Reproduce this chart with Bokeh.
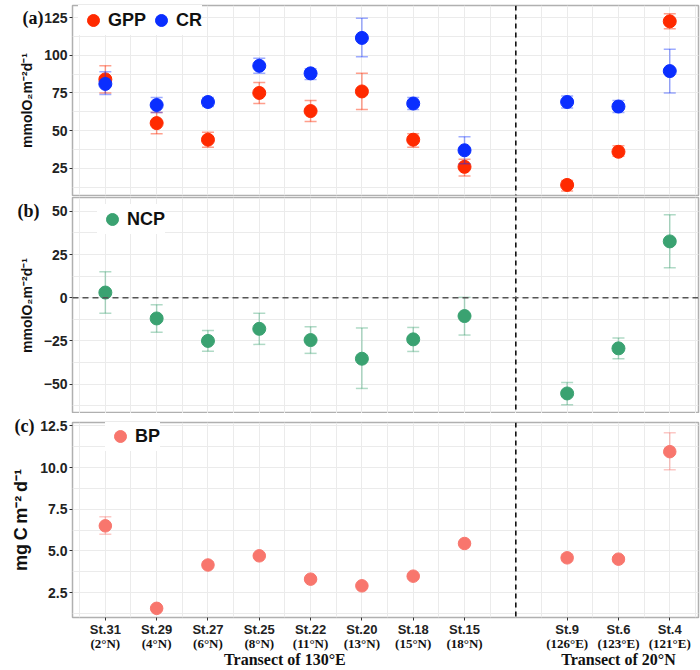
from bokeh.plotting import figure
from bokeh.layouts import column
from bokeh.models import (Range1d, FixedTicker, SingleIntervalTicker, LinearAxis, Span,
                          Legend, LegendItem, ColumnDataSource, PrintfTickFormatter)
from bokeh.embed import file_html
from bokeh.resources import INLINE

# ---------------- data ----------------
stations = ["St.31", "St.29", "St.27", "St.25", "St.22", "St.20", "St.18", "St.15", "St.9", "St.6", "St.4"]
coords = ["(2°N)", "(4°N)", "(6°N)", "(8°N)", "(11°N)", "(13°N)", "(15°N)", "(18°N)", "(126°E)", "(123°E)", "(121°E)"]
transects = ["Transect of 130°E", "Transect of 20°N"]

gpp = [84, 55, 44, 75, 63, 76, 44, 26, 14, 36, 122.5]
gpp_lo = [75, 48, 39, 68, 56, 64, 39, 20, 10, 33, 117.5]
gpp_hi = [93, 62, 49, 82, 70, 88, 48, 31, 17, 40, 127.5]

cr = [81, 67, 69, 93, 88, 111.5, 68, 37, 69, 66, 89.5]
cr_lo = [74, 62, 66, 88, 84, 99, 64, 28, 65, 62, 75]
cr_hi = [89, 72, 72, 98, 91, 124.5, 72, 46, 73, 70, 104]

ncp = [3, -12, -25, -18, -24.5, -35.3, -24.1, -10.6, -55.4, -29.3, 32.6]
ncp_lo = [-9, -20, -31, -27, -32.2, -52.5, -31.1, -21.6, -62, -35.3, 17.4]
ncp_hi = [15, -4, -19, -9, -16.8, -17.5, -17.2, 0.2, -49, -23.3, 48]

bp = [6.5, 1.55, 4.15, 4.7, 3.3, 2.9, 3.48, 5.44, 4.58, 4.5, 10.95]
bp_lo = [6.0, 1.5, 4.0, 4.6, 3.25, 2.85, 3.4, 5.4, 4.4, 4.35, 9.87]
bp_hi = [7.05, 1.6, 4.35, 4.8, 3.35, 2.95, 3.55, 5.5, 4.8, 4.65, 12.08]

# x positions: first transect 0..7, gap, second transect
n1 = 8
xpos = list(range(n1)) + [n1 + 1 + i for i in range(len(stations) - n1)]
divider = n1
transect_pos = [(n1 - 1) / 2, xpos[n1 + 1]]

# ---------------- styles ----------------
RED = "#FF2A00"
BLUE = "#0A2EFF"
GREEN = "#3AA271"
SALMON = "#F8766D"
SANS = "Liberation Sans"
SERIF = "Liberation Serif"
GRID = "#EBEBEB"

x_range = Range1d(-0.64, 11.56)


def base_fig(height, y_range, interval, top, bottom, fmt=None):
    p = figure(width=700, height=height, x_range=x_range, y_range=y_range,
               output_backend="svg", toolbar_location=None,
               min_border_left=72, min_border_right=2,
               min_border_top=top, min_border_bottom=bottom,
               background_fill_color="white", border_fill_color="white",
               outline_line_color="#B0B0B0", outline_line_width=1.5,
               x_axis_location=None, y_axis_location=None)
    yax = LinearAxis(ticker=SingleIntervalTicker(interval=interval, num_minor_ticks=2))
    if fmt is not None:
        yax.formatter = fmt
    yax.axis_line_color = None
    yax.major_tick_out = 3
    yax.major_tick_in = 0
    yax.major_tick_line_color = "#333333"
    yax.minor_tick_out = 0
    yax.minor_tick_in = 0
    yax.major_label_text_font = SANS
    yax.major_label_text_font_style = "bold"
    yax.major_label_text_font_size = "14px"
    yax.major_label_text_color = "#222222"
    yax.major_label_standoff = 2
    yax.axis_label_text_font = SANS
    yax.axis_label_text_font_style = "bold"
    yax.axis_label_text_color = "#111111"
    yax.axis_label_standoff = 6
    p.add_layout(yax, "left")
    p.ygrid.ticker = yax.ticker
    p.ygrid.grid_line_color = GRID
    p.ygrid.minor_grid_line_color = GRID
    p.xgrid.ticker = FixedTicker(ticks=list(range(12)), minor_ticks=[i + 0.5 for i in range(-1, 12)])
    p.xgrid.grid_line_color = GRID
    p.xgrid.minor_grid_line_color = GRID
    p.add_layout(Span(location=divider, dimension="height", line_color="black",
                      line_dash="5 4", line_width=1.5))
    return p, yax


def add_series(p, y, lo, hi, color, err_alpha, size):
    src = ColumnDataSource(dict(x=xpos, y=y, lo=lo, hi=hi))
    p.segment(x0="x", y0="lo", x1="x", y1="hi", source=src, line_color=color,
              line_alpha=err_alpha, line_width=1.5)
    p.scatter(x="x", y="lo", source=src, marker="dash", size=12, line_color=color,
              line_alpha=err_alpha, line_width=1.5)
    p.scatter(x="x", y="hi", source=src, marker="dash", size=12, line_color=color,
              line_alpha=err_alpha, line_width=1.5)
    return p.scatter(x="x", y="y", source=src, size=size, fill_color=color,
                     line_color=color, fill_alpha=1)


def make_legend(items, loc):
    return Legend(items=items, orientation="horizontal", location=loc,
                  label_text_font=SANS, label_text_font_style="bold",
                  label_text_font_size="18px", label_text_color="#111111",
                  glyph_width=30, glyph_height=30, label_standoff=0, spacing=0,
                  padding=0, margin=0, border_line_color=None,
                  background_fill_color="white", background_fill_alpha=1)


def panel_label(p, text, y, standoff):
    ax = LinearAxis(ticker=FixedTicker(ticks=[y]), major_label_overrides={y: text})
    ax.axis_line_color = None
    ax.major_tick_out = 0
    ax.major_tick_in = 0
    ax.minor_tick_out = 0
    ax.minor_tick_in = 0
    ax.major_label_standoff = standoff
    ax.major_label_text_font = SERIF
    ax.major_label_text_font_style = "bold"
    ax.major_label_text_font_size = "18px"
    ax.major_label_text_color = "#111111"
    p.add_layout(ax, "left")


# ---------------- panel (a) ----------------
pa, ya = base_fig(197, Range1d(7, 133), 25, 5, 2)
ya.axis_label = "mmolO₂m⁻²d⁻¹"
ya.axis_label_text_font_size = "14px"
r_gpp = add_series(pa, gpp, gpp_lo, gpp_hi, RED, 0.45, 13)
r_cr = add_series(pa, cr, cr_lo, cr_hi, BLUE, 0.4, 13)
pa.add_layout(make_legend([LegendItem(label="GPP", renderers=[r_gpp]),
                           LegendItem(label="CR", renderers=[r_cr])], (6, 160)))
panel_label(pa, "(a)", 125, -27)

# ---------------- panel (b) ----------------
pb, yb = base_fig(216, Range1d(-67, 58), 25, 0, 0)
yb.axis_label = "mmolO₂m⁻²d⁻¹"
yb.axis_label_text_font_size = "14px"
pb.add_layout(Span(location=0, dimension="width", line_color="#555555",
                   line_dash="6 4", line_width=1.5))
r_ncp = add_series(pb, ncp, ncp_lo, ncp_hi, GREEN, 0.4, 13)
pb.add_layout(make_legend([LegendItem(label="NCP", renderers=[r_ncp])], (25, 179)))
panel_label(pb, "(b)", 50, -24)

# ---------------- panel (c) ----------------
pc, yc = base_fig(257, Range1d(1.0, 12.7), 2.5, 9, 52, PrintfTickFormatter(format="%.1f"))
yc.axis_label = "mg\u2009C\u2009m⁻²\u2009d⁻¹"
yc.axis_label_text_font_size = "18px"
r_bp = add_series(pc, bp, bp_lo, bp_hi, SALMON, 0.4, 12.5)
pc.add_layout(make_legend([LegendItem(label="BP", renderers=[r_bp])], (33, 166)))
panel_label(pc, "(c)", 12.5, -26)

ax1 = LinearAxis(ticker=FixedTicker(ticks=xpos),
                 major_label_overrides={x: s for x, s in zip(xpos, stations)})
ax1.axis_line_color = None
ax1.major_tick_out = 3
ax1.major_tick_in = 0
ax1.major_tick_line_color = "#333333"
ax1.minor_tick_out = 0
ax1.major_label_standoff = 1
ax1.major_label_text_font = SANS
ax1.major_label_text_font_style = "bold"
ax1.major_label_text_font_size = "13px"
ax1.major_label_text_color = "#222222"
pc.add_layout(ax1, "below")

ax2 = LinearAxis(ticker=FixedTicker(ticks=xpos),
                 major_label_overrides={x: s for x, s in zip(xpos, coords)})
ax2.axis_line_color = None
ax2.major_tick_out = 0
ax2.major_tick_in = 0
ax2.minor_tick_out = 0
ax2.major_label_standoff = -4
ax2.major_label_text_font = SERIF
ax2.major_label_text_font_style = "bold"
ax2.major_label_text_font_size = "13px"
ax2.major_label_text_color = "#111111"
pc.add_layout(ax2, "below")

ax3 = LinearAxis(ticker=FixedTicker(ticks=transect_pos),
                 major_label_overrides={x: s for x, s in zip(transect_pos, transects)})
ax3.axis_line_color = None
ax3.major_tick_out = 0
ax3.major_tick_in = 0
ax3.minor_tick_out = 0
ax3.major_label_standoff = -3
ax3.major_label_text_font = SERIF
ax3.major_label_text_font_style = "bold"
ax3.major_label_text_font_size = "16px"
ax3.major_label_text_color = "#111111"
pc.add_layout(ax3, "below")

layout = column(pa, pb, pc, spacing=0)
open("out.html", "w").write(file_html(layout, INLINE))
